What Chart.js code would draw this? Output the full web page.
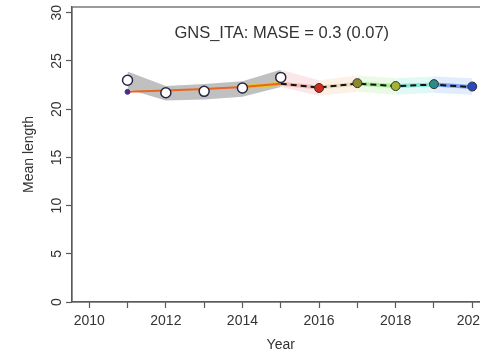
<!DOCTYPE html>
<html>
<head>
<meta charset="utf-8">
<script src="https://cdn.jsdelivr.net/npm/chart.js@4/dist/chart.umd.min.js"></script>
<style>
  html, body { margin: 0; padding: 0; background: #fff; overflow: hidden; }
  #wrap { position: absolute; left: 0; top: 0; width: 500px; height: 358px; }
</style>
</head>
<body>
<div id="wrap"><canvas id="c" width="500" height="358"></canvas></div>
<script>
// Survey index: mean length by year
const years       = [2011, 2012, 2013, 2014, 2015, 2016, 2017, 2018, 2019, 2020];
const observed    = [23.0, 21.7, 21.85, 22.2, 23.3, 22.2, 22.7, 22.4, 22.6, 22.35];
const bandLower   = [22.1, 20.9, 21.0, 21.3, 22.3, 21.4, 21.8, 21.5, 21.7, 21.5];
const bandUpper   = [23.9, 22.4, 22.6, 22.9, 24.1, 23.0, 23.5, 23.2, 23.4, 23.2];
const fitYears    = [2011, 2012, 2013, 2014, 2015];
const fitValues   = [21.8, 21.95, 22.1, 22.3, 22.65];
const predYears   = [2015, 2016, 2017, 2018, 2019, 2020];
const predValues  = [22.65, 22.25, 22.65, 22.4, 22.55, 22.3];
const peelColors  = ['#d42a1e', '#8c8a2a', '#a3b431', '#2b8c86', '#2a48c2'];
const peelShades  = ['rgba(240,170,170,0.28)', 'rgba(245,200,170,0.28)', 'rgba(190,240,170,0.32)',
                     'rgba(160,235,225,0.32)', 'rgba(170,200,250,0.35)'];
const peelLines   = ['rgba(230,120,110,0.4)', 'rgba(220,190,120,0.4)', 'rgba(120,225,90,0.55)',
                     'rgba(60,215,195,0.55)', 'rgba(60,110,230,0.6)'];
const xTicks      = [2010, 2012, 2014, 2016, 2018, 2020];
const yTicks      = [0, 5, 10, 15, 20, 25, 30];
const headerText  = 'GNS_ITA: MASE = 0.3 (0.07)';

const pts = (xs, ys) => xs.map((x, i) => ({ x, y: ys[i] }));
const FONT = "'Liberation Sans', Arial, sans-serif";
const AXIS = '#5a5a5a';
const TEXT = '#333';

const datasets = [];

// grey uncertainty band over the fitted years
const nFit = fitYears.length;
datasets.push({
  data: pts(years.slice(0, nFit), bandLower.slice(0, nFit)),
  borderWidth: 0, pointRadius: 0, fill: false, order: 20
});
datasets.push({
  data: pts(years.slice(0, nFit), bandUpper.slice(0, nFit)),
  borderWidth: 0, pointRadius: 0, fill: '-1',
  backgroundColor: 'rgba(150,150,150,0.6)', order: 20
});

// faint coloured bands, one per hindcast year
for (let k = 0; k < predYears.length - 1; k++) {
  const i0 = nFit - 1 + k, i1 = i0 + 1;
  const base = datasets.length;
  datasets.push({
    data: [{ x: years[i0], y: bandLower[i0] }, { x: years[i1], y: bandLower[i1] }],
    borderWidth: 0, pointRadius: 0, fill: false, order: 19
  });
  datasets.push({
    data: [{ x: years[i0], y: bandUpper[i0] }, { x: years[i1], y: bandUpper[i1] }],
    borderWidth: 0, pointRadius: 0, fill: base,
    backgroundColor: peelShades[k], order: 19
  });
}

// coloured hindcast segments under the dashed line
for (let k = 0; k < predYears.length - 1; k++) {
  datasets.push({
    data: [{ x: predYears[k], y: predValues[k] }, { x: predYears[k + 1], y: predValues[k + 1] }],
    borderColor: peelLines[k], borderWidth: 4, pointRadius: 0, fill: false, order: 15
  });
}

// yellow segment of the last fitted step
datasets.push({
  data: pts(fitYears.slice(3), fitValues.slice(3)),
  borderColor: 'rgba(235,200,20,0.9)', borderWidth: 4, pointRadius: 0, fill: false, order: 14
});

// reference model fit
datasets.push({
  data: pts(fitYears, fitValues),
  borderColor: '#e8661f', borderWidth: 2, pointRadius: 0, fill: false, order: 10
});
// first point of the fit
datasets.push({
  data: [{ x: fitYears[0], y: fitValues[0] }],
  showLine: false, pointRadius: 2.5, pointBackgroundColor: '#4b2f8f',
  pointBorderColor: '#4b2f8f', order: 9
});

// prediction (dashed)
datasets.push({
  data: pts(predYears, predValues),
  borderColor: '#111', borderWidth: 2, borderDash: [6, 4], pointRadius: 0, fill: false, order: 8
});

// observed values: open circles over the fitted years
datasets.push({
  data: pts(years.slice(0, nFit), observed.slice(0, nFit)),
  showLine: false, pointRadius: 5, pointBorderWidth: 1.5,
  pointBackgroundColor: '#fff', pointBorderColor: '#2a2540', order: 2
});
// observed values in the hindcast years, coloured by peel
datasets.push({
  data: pts(years.slice(nFit), observed.slice(nFit)),
  showLine: false, pointRadius: 4.5, pointBorderWidth: 1,
  pointBackgroundColor: peelColors, pointBorderColor: '#333', order: 1
});

const frame = {
  id: 'frame',
  afterDraw(chart) {
    const { ctx, chartArea: a, scales } = chart;
    ctx.save();
    ctx.strokeStyle = AXIS;
    ctx.lineWidth = 1.2;
    ctx.strokeRect(a.left, a.top, a.right - a.left, a.bottom - a.top);

    // y tick labels, written upward like the axis title
    ctx.fillStyle = TEXT;
    ctx.font = '14px ' + FONT;
    ctx.textAlign = 'center';
    ctx.textBaseline = 'middle';
    scales.y.ticks.forEach(t => {
      const py = scales.y.getPixelForValue(t.value);
      ctx.save();
      ctx.translate(a.left - 15, py);
      ctx.rotate(-Math.PI / 2);
      ctx.fillText(String(t.value), 0, 0);
      ctx.restore();
    });

    // header inside the plot
    ctx.font = '16.5px ' + FONT;
    ctx.fillText(headerText, (a.left + a.right) / 2 + 1, a.top + 26);
    ctx.restore();
  }
};

new Chart(document.getElementById('c'), {
  type: 'line',
  data: { datasets },
  options: {
    responsive: false,
    animation: false,
    devicePixelRatio: 1,
    layout: { padding: { left: 0, right: 10.5, top: 7, bottom: 0 } },
    plugins: { legend: { display: false }, tooltip: { enabled: false } },
    elements: { line: { tension: 0 } },
    scales: {
      x: {
        type: 'linear', min: 2009.55, max: 2020.45,
        afterFit: s => { s.height = 56; },
        afterBuildTicks: s => { s.ticks = years.concat([2010]).sort().map(v => ({ value: v })); },
        grid: { drawOnChartArea: false, color: AXIS, tickLength: 6, tickWidth: 1.2 },
        border: { display: true, color: AXIS, width: 1.2 },
        ticks: {
          autoSkip: false, maxRotation: 0, padding: 5, color: TEXT,
          font: { family: FONT, size: 14 },
          callback: v => xTicks.includes(v) ? String(v) : ''
        },
        title: {
          display: true, text: 'Year', color: TEXT,
          font: { family: FONT, size: 14 }, padding: { top: 0, bottom: 4 }
        }
      },
      y: {
        type: 'linear', min: 0, max: 30.6,
        afterFit: s => { s.width = 72; },
        afterBuildTicks: s => { s.ticks = yTicks.map(v => ({ value: v })); },
        grid: { drawOnChartArea: false, color: AXIS, tickLength: 6, tickWidth: 1.2 },
        border: { display: true, color: AXIS, width: 1.2 },
        ticks: { display: false },
        title: {
          display: true, text: 'Mean length', color: TEXT,
          font: { family: FONT, size: 14 }, padding: { top: 21, bottom: 0 }
        }
      }
    }
  },
  plugins: [frame]
});
</script>
</body>
</html>
